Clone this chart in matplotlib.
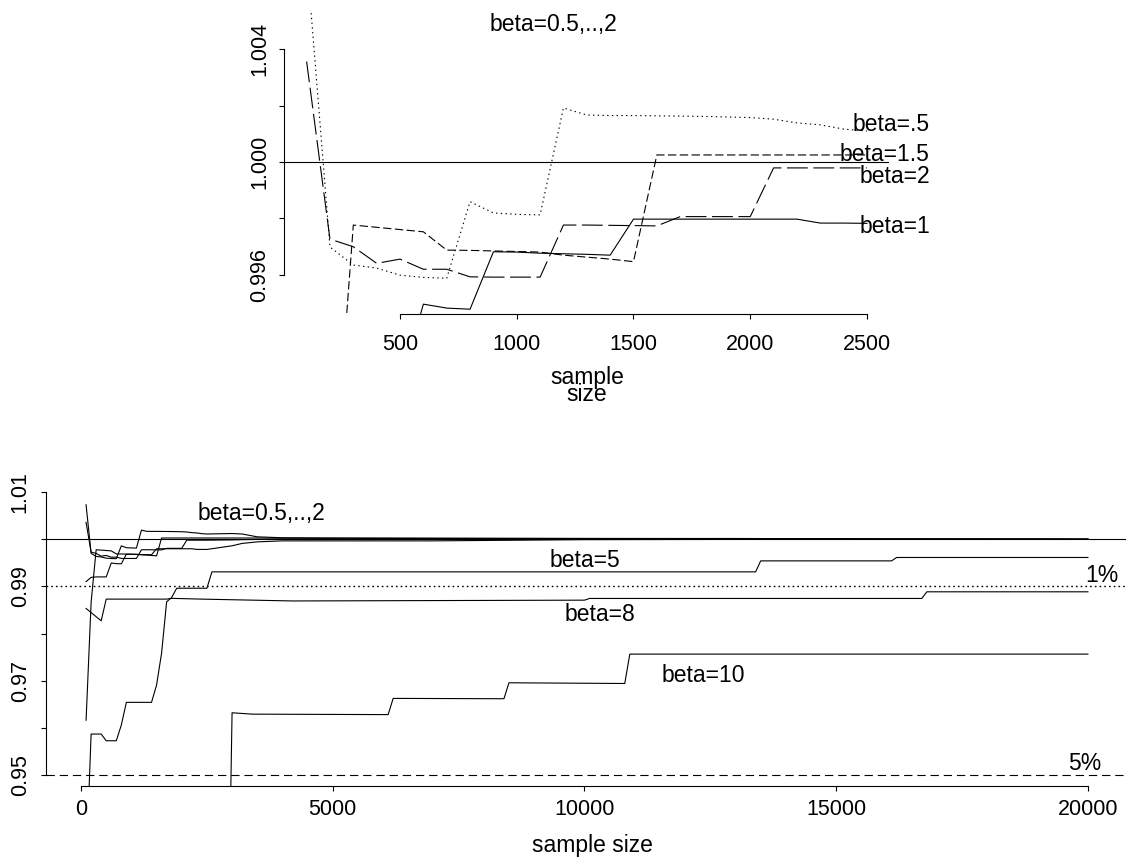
import numpy as np
import matplotlib
matplotlib.use("Agg")
import matplotlib.pyplot as plt

plt.rcParams["font.family"] = ["Liberation Sans", "DejaVu Sans"]
plt.rcParams["lines.scale_dashes"] = False

# sample sizes 100..2500 used for beta = 0.5, 1, 1.5, 2
n_small = [100, 200, 300, 400, 500, 600, 700, 800, 900, 1000, 1100, 1200, 1300,
           1400, 1500, 1600, 1700, 1800, 1900, 2000, 2100, 2200, 2300, 2400, 2500]

b05 = [1.0073, 0.99698, 0.99634, 0.99623, 0.99598, 0.99590, 0.99587, 0.99859,
       0.99819, 0.99814, 0.99812, 1.00192, 1.00167, 1.00165, 1.00165, 1.00164,
       1.00163, 1.00162, 1.00160, 1.00158, 1.00152, 1.00139, 1.00132, 1.00117, 1.00110]
b1 = [0.9910, 0.9919, 0.9920, 0.9920, 0.9920, 0.99495, 0.99481, 0.99477,
      0.99681, 0.99680, 0.99676, 0.99674, 0.99672, 0.99669, 0.99797, 0.99797,
      0.99797, 0.99797, 0.99797, 0.99797, 0.99797, 0.99797, 0.99783, 0.99783, 0.99782]
b15 = [0.9616, 0.9866, 0.99776, 0.99768, 0.99760, 0.99752, 0.99687, 0.99686,
       0.99684, 0.99682, 0.99680, 0.99669, 0.99662, 0.99655, 0.99646, 1.00025,
       1.00025, 1.00025, 1.00025, 1.00025, 1.00025, 1.00025, 1.00025, 1.00025, 1.00025]
b2 = [1.00357, 0.99726, 0.99699, 0.99640, 0.99655, 0.99619, 0.99619, 0.99592,
      0.99591, 0.99591, 0.99591, 0.99776, 0.99776, 0.99775, 0.99774, 0.99773,
      0.99806, 0.99806, 0.99806, 0.99806, 0.99979, 0.99979, 0.99979, 0.99979, 0.99979]

# continuation of the small-beta runs up to 20000
n_big = [3000, 3200, 3500, 4000, 5000, 7000, 10000, 13000, 16000, 20000]
b05_big = [1.00120, 1.00110, 1.00050, 1.00030, 1.00025, 1.00020, 1.00015, 1.00015, 1.00005, 1.00000]
b1_big = [0.99860, 0.99910, 0.99943, 0.99964, 0.99964, 0.99964, 0.99990, 0.99995, 1.00000, 1.00000]
b15_big = [1.00025, 1.00025, 1.00025, 1.00022, 1.00020, 1.00018, 1.00015, 1.00012, 1.00005, 1.00000]
b2_big = [0.99985, 0.99990, 0.99995, 1.00000, 1.00005, 1.00008, 1.00010, 1.00010, 1.00003, 1.00000]

# large beta runs
n_b5 = [100, 200, 400, 500, 700, 800, 900, 1400, 1500, 1600, 1700, 1800, 1900,
        2500, 2600, 13400, 13500, 16100, 16200, 20000]
b5 = [0.930, 0.95868, 0.95868, 0.95726, 0.95726, 0.96059, 0.9654, 0.9654, 0.96906,
      0.97584, 0.98672, 0.98764, 0.9896, 0.9896, 0.99307, 0.99307, 0.9954, 0.9954,
      0.99612, 0.99612]
n_b8 = [100, 400, 500, 1700, 1800, 2400, 4200, 10000, 10100, 16700, 16800, 20000]
b8 = [0.98531, 0.98269, 0.98729, 0.98729, 0.98745, 0.98729, 0.98690, 0.98707,
      0.98743, 0.98743, 0.98884, 0.98884]
n_b10 = [2900, 3000, 3400, 6100, 6200, 8400, 8500, 10800, 10900, 20000]
b10 = [0.900, 0.96319, 0.96290, 0.96280, 0.96624, 0.96617, 0.96955, 0.96940,
       0.97563, 0.97563]

W, H = 1126, 866
fig = plt.figure(figsize=(W / 100, H / 100), dpi=100)

def box(l, r, t, b):
    return [l / W, 1 - b / H, (r - l) / W, (b - t) / H]

LW = 0.8
FS = 16.5
dotted = (0, (1.0, 2.4))
short_dash = (0, (6, 2.5))
long_dash = (0, (15, 4))

# ---- upper panel: beta = 0.5 .. 2, n <= 2500
ax1 = fig.add_axes(box(284.2, 889.4, 10, 314))
ax1.plot(n_small, b05, color="black", lw=LW, linestyle=dotted)
ax1.plot(n_small, b1, color="black", lw=LW)
ax1.plot(n_small, b15, color="black", lw=LW, linestyle=short_dash)
ax1.plot(n_small, b2, color="black", lw=LW, linestyle=long_dash)
ax1.axhline(1.0, color="black", lw=LW)
ax1.set_xlim(4, 2596)
ax1.set_ylim(0.9946, 1.0054)
ax1.set_xticks([500, 1000, 1500, 2000, 2500])
ax1.set_yticks([0.996, 0.998, 1.000, 1.002, 1.004])
ax1.set_yticklabels(["0.996", "", "1.000", "", "1.004"], rotation=90, va="center")
ax1.tick_params(axis="x", length=3.5, width=0.8, labelsize=15.5, pad=11)
ax1.tick_params(axis="y", length=3.5, width=0.8, labelsize=15.5, pad=6.5)
for s in ["top", "right"]:
    ax1.spines[s].set_visible(False)
ax1.spines["left"].set_bounds(0.996, 1.004)
ax1.spines["bottom"].set_bounds(500, 2500)
for s in ["left", "bottom"]:
    ax1.spines[s].set_linewidth(0.8)
ax1.text(1155, 1.00487, "beta=0.5,..,2", ha="center", va="center", fontsize=FS)
ax1.text(2440, 1.00132, "beta=.5", ha="left", va="center", fontsize=FS)
ax1.text(2384, 1.00025, "beta=1.5", ha="left", va="center", fontsize=FS)
ax1.text(2470, 0.99947, "beta=2", ha="left", va="center", fontsize=FS)
ax1.text(2470, 0.99772, "beta=1", ha="left", va="center", fontsize=FS)
# two-line axis title with tight line spacing
fig.text(587 / W, 1 - 386 / H, "sample\nsize", ha="center", va="center",
         fontsize=FS, linespacing=0.62)

# ---- lower panel: all betas, n <= 20000
ax2 = fig.add_axes(box(46, 1128, 480.7, 786.3))
for ys, yb in [(b05, b05_big), (b1, b1_big), (b15, b15_big), (b2, b2_big)]:
    ax2.plot(n_small + n_big, ys + yb, color="black", lw=LW)
ax2.plot(n_b5, b5, color="black", lw=LW)
ax2.plot(n_b8, b8, color="black", lw=LW)
ax2.plot(n_b10, b10, color="black", lw=LW)
ax2.axhline(1.0, color="black", lw=LW)
ax2.axhline(0.99, color="black", lw=1.0, linestyle=(0, (1.2, 2.2)))
ax2.axhline(0.95, color="black", lw=LW, linestyle=(0, (6, 3.5)))
ax2.set_xlim(-696, 20796)
ax2.set_ylim(0.9476, 1.0124)
ax2.set_xticks([0, 5000, 10000, 15000, 20000])
ax2.set_yticks([0.95, 0.96, 0.97, 0.98, 0.99, 1.00, 1.01])
ax2.set_yticklabels(["0.95", "", "0.97", "", "0.99", "", "1.01"], rotation=90, va="center")
ax2.tick_params(axis="x", length=3.5, width=0.8, labelsize=15.5, pad=5.6)
ax2.tick_params(axis="y", length=3.5, width=0.8, labelsize=15.5, pad=7.5)
for s in ["top", "right"]:
    ax2.spines[s].set_visible(False)
ax2.spines["left"].set_bounds(0.95, 1.01)
ax2.spines["bottom"].set_bounds(0, 20000)
for s in ["left", "bottom"]:
    ax2.spines[s].set_linewidth(0.8)
ax2.text(3575, 1.0055, "beta=0.5,..,2", ha="center", va="center", fontsize=FS)
ax2.text(10000, 0.99555, "beta=5", ha="center", va="center", fontsize=FS)
ax2.text(10307, 0.98411, "beta=8", ha="center", va="center", fontsize=FS)
ax2.text(12353, 0.97118, "beta=10", ha="center", va="center", fontsize=FS)
ax2.text(20277, 0.99237, "1%", ha="center", va="center", fontsize=FS)
ax2.text(19940, 0.95253, "5%", ha="center", va="center", fontsize=FS)
fig.text(592 / W, 1 - 852 / H, "sample size", ha="center", va="baseline", fontsize=FS)

fig.savefig("out.png", dpi=100)
